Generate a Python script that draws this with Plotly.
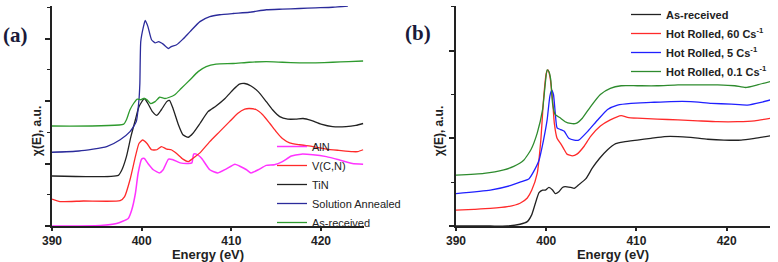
import plotly.graph_objects as go

energy_ticks = [390, 400, 410, 420]

# ---------------- Panel (a) ----------------
aln_e = [390, 395.4, 397.2, 398.5, 398.9, 399.3, 399.6, 400.0, 400.3, 400.7, 401.3, 402.0, 402.4, 403.0, 403.5,
         404.3, 405.2, 405.6, 405.8, 406.1, 406.7, 407.6, 408.5, 409.4, 410.4, 410.9, 411.7, 412.2, 413.0, 413.9,
         414.8, 415.7, 416.7, 417.8, 419.1, 420.6, 422.0, 423.5, 424.7]
aln_y = [0.0, 0.01, 0.04, 0.12, 0.26, 0.52, 0.84, 1.07, 1.08, 1.0, 0.9, 0.85, 0.9, 1.07, 1.06,
         1.01, 1.0, 1.01, 1.15, 1.15, 1.08, 0.9, 0.85, 0.91, 0.99, 0.96, 0.9, 0.85, 0.9, 0.97,
         0.98, 1.03, 1.12, 1.15, 1.14, 1.11, 1.06, 1.0, 0.99]

vcn_e = [390, 390.9, 393.5, 397.6, 398.1, 398.7, 399.3, 399.7, 400.1, 400.6, 401.1, 401.7, 402.2, 402.8, 403.3,
         403.9, 404.6, 405.2, 405.7, 406.5, 407.6, 408.7, 409.8, 410.7, 411.5, 412.0, 412.8, 413.5, 414.3, 415.0,
         415.7, 416.5, 417.6, 419.1, 420.6, 422.0, 423.5, 424.1, 424.7]
vcn_y = [0.43, 0.39, 0.40, 0.405, 0.47, 0.74, 1.11, 1.32, 1.376, 1.32, 1.22, 1.22, 1.27, 1.23, 1.22,
         1.16, 1.07, 1.03, 1.08, 1.17, 1.35, 1.51, 1.67, 1.80, 1.87, 1.88, 1.86, 1.78, 1.64, 1.51,
         1.40, 1.33, 1.30, 1.27, 1.23, 1.21, 1.19, 1.19, 1.22]

tin_e = [390, 397.4, 397.8, 398.3, 398.8, 399.3, 399.7, 400.3, 400.7, 401.2, 401.7, 402.2, 402.8, 403.1, 403.5,
         404.1, 404.6, 405.2, 405.7, 406.5, 407.4, 408.3, 409.3, 410.2, 410.9, 411.5, 412.2, 413.0, 413.9, 414.6,
         415.4, 416.3, 417.2, 418.0, 418.9, 420.0, 421.3, 422.8, 423.9, 424.7]
tin_y = [0.80, 0.81, 0.90, 1.11, 1.43, 1.70, 1.91, 2.04, 1.96, 1.83, 1.77, 1.86, 1.99, 2.01, 1.88,
         1.62, 1.46, 1.42, 1.48, 1.64, 1.83, 1.92, 2.04, 2.18, 2.27, 2.28, 2.24, 2.15, 1.99, 1.86,
         1.75, 1.71, 1.71, 1.72, 1.69, 1.63, 1.59, 1.59, 1.61, 1.64]

sa_e = [390, 393.0, 396.1, 397.6, 398.7, 399.4, 399.7, 399.8, 399.9, 400.2, 400.4, 400.7, 401.1, 401.5, 401.9,
        402.4, 403.0, 403.3, 403.9, 404.6, 405.4, 406.5, 407.6, 408.7, 410.2, 412.0, 413.9, 415.7, 417.6, 419.4,
        421.3, 423.0]
sa_y = [1.18, 1.20, 1.27, 1.38, 1.51, 1.67, 2.02, 2.28, 2.95, 3.19, 3.29, 3.19, 2.98, 2.93, 2.95,
        2.91, 2.84, 2.87, 2.90, 2.99, 3.11, 3.27, 3.35, 3.38, 3.40, 3.42, 3.46, 3.47, 3.48, 3.49,
        3.50, 3.52]

asr_a_e = [390, 398.0, 398.3, 398.7, 399.1, 399.5, 399.9, 400.2, 400.6, 401.0, 401.5, 402.0, 402.6, 403.1, 403.7,
           404.4, 405.4, 406.3, 407.2, 408.3, 410.2, 412.0, 413.9, 415.7, 417.6, 419.4, 421.3, 423.1, 424.7]
asr_a_y = [1.60, 1.63, 1.70, 1.86, 1.96, 2.03, 2.02, 2.04, 2.02, 1.96, 1.99, 2.06, 2.04, 2.06, 2.10,
           2.20, 2.34, 2.47, 2.55, 2.59, 2.60, 2.62, 2.63, 2.62, 2.61, 2.61, 2.62, 2.63, 2.64]

# ---------------- Panel (b) ----------------
b_asr_e = [390, 393.8, 395.7, 397.1, 397.9, 398.4, 398.8, 399.2, 399.6, 399.9, 400.3, 400.7, 401.0, 401.4, 401.8,
           402.1, 402.7, 403.1, 403.6, 404.4, 405.1, 405.9, 406.8, 407.7, 408.6, 410.1, 411.6, 413.1, 414.6, 416.0,
           417.9, 419.7, 421.6, 423.1, 424.9]
b_asr_y = [0.0, 0.0, 0.0, 0.02, 0.05, 0.13, 0.26, 0.38, 0.41, 0.41, 0.44, 0.41, 0.37, 0.39, 0.44,
           0.45, 0.44, 0.43, 0.47, 0.54, 0.66, 0.77, 0.87, 0.94, 0.96, 0.98, 1.00, 1.02, 1.02, 1.01,
           0.99, 0.98, 0.98, 1.00, 1.03]

b_60_e = [390, 392.0, 393.8, 395.7, 397.1, 397.9, 398.4, 399.0, 399.4, 399.7, 400.0, 400.2, 400.4, 400.7, 400.9,
          401.2, 401.6, 402.0, 402.3, 402.9, 403.4, 404.2, 404.9, 406.0, 407.1, 408.3, 409.0, 410.1, 412.3, 414.6,
          416.8, 419.0, 421.2, 423.1, 424.9]
b_60_y = [0.18, 0.19, 0.20, 0.22, 0.26, 0.32, 0.41, 0.60, 0.98, 1.44, 1.74, 1.78, 1.71, 1.44, 1.17,
          1.00, 0.94, 0.87, 0.82, 0.80, 0.82, 0.91, 1.02, 1.14, 1.21, 1.26, 1.24, 1.23, 1.22, 1.21,
          1.20, 1.19, 1.19, 1.20, 1.23]

b_5_e = [390, 393.8, 396.0, 397.1, 398.1, 398.6, 399.2, 399.7, 400.1, 400.4, 400.6, 400.8, 401.0, 401.2, 401.6,
         402.0, 402.5, 403.1, 403.6, 404.6, 405.7, 406.8, 407.9, 409.4, 411.6, 413.8, 416.0, 418.3, 420.5, 422.3,
         423.8, 424.9]
b_5_y = [0.37, 0.41, 0.46, 0.50, 0.54, 0.62, 0.75, 0.98, 1.21, 1.48, 1.55, 1.50, 1.29, 1.12, 1.10,
         1.08, 1.00, 0.98, 0.98, 1.08, 1.21, 1.33, 1.38, 1.40, 1.41, 1.42, 1.42, 1.40, 1.39, 1.38,
         1.41, 1.44]

b_01_e = [390, 393.1, 395.3, 396.4, 397.5, 398.3, 399.0, 399.6, 399.9, 400.1, 400.3, 400.5, 400.7, 401.0, 401.6,
          402.1, 402.7, 403.3, 404.0, 404.9, 406.0, 407.1, 408.3, 410.1, 412.3, 414.6, 416.8, 419.0, 420.9, 422.1,
          423.4, 424.9]
b_01_y = [0.58, 0.60, 0.64, 0.68, 0.75, 0.87, 1.06, 1.33, 1.63, 1.78, 1.76, 1.67, 1.40, 1.27, 1.23,
          1.19, 1.17, 1.17, 1.23, 1.36, 1.50, 1.57, 1.60, 1.60, 1.60, 1.61, 1.61, 1.61, 1.60, 1.58,
          1.61, 1.65]

FW, FH = 778, 262
FONT = "Liberation Sans, Arial, sans-serif"


def px(x):
    return x / FW


def py(y):
    return 1 - y / FH


fig = go.Figure()


def add(x, y, name, color, xa, ya, legend, width=1.3):
    fig.add_trace(go.Scatter(
        x=x, y=y, name=name, mode="lines",
        line=dict(color=color, width=width, shape="spline", smoothing=0.5),
        xaxis=xa, yaxis=ya, legend=legend))


add(aln_e, aln_y, "AlN", "#ff33ff", "x", "y", "legend", 1.5)
add(vcn_e, vcn_y, "V(C,N)", "#ff2a2a", "x", "y", "legend")
add(tin_e, tin_y, "TiN", "#222222", "x", "y", "legend")
add(sa_e, sa_y, "Solution Annealed", "#2b2b9b", "x", "y", "legend")
add(asr_a_e, asr_a_y, "As-received", "#2e9a2e", "x", "y", "legend")

add(b_asr_e, b_asr_y, "As-received", "#222222", "x2", "y2", "legend2")
add(b_60_e, b_60_y, "Hot Rolled, 60 Cs<sup>-1</sup>", "#ff2a2a", "x2", "y2", "legend2")
add(b_5_e, b_5_y, "Hot Rolled, 5 Cs<sup>-1</sup>", "#2020ff", "x2", "y2", "legend2")
add(b_01_e, b_01_y, "Hot Rolled, 0.1 Cs<sup>-1</sup>", "#2e8b2e", "x2", "y2", "legend2")

ydom = [py(226), py(6)]

xcommon = dict(
    range=[390, 424.8], tickvals=energy_ticks, ticks="outside", ticklen=3, tickwidth=1.5,
    tickcolor="#222", showline=True, linecolor="#222", linewidth=1.8, showgrid=False, zeroline=False,
    automargin=False,
    tickfont=dict(family=FONT, size=12, color="#222", weight="bold"),
    title=dict(text="Energy (eV)", font=dict(family=FONT, size=13, color="#222", weight="bold"), standoff=0),
)
ycommon = dict(
    dtick=1, tick0=0, ticks="outside", ticklen=5, tickwidth=1.5, tickcolor="#222",
    minor=dict(dtick=0.5, tick0=0, ticks="outside", ticklen=3, tickcolor="#222", tickwidth=1.2),
    showticklabels=False, showline=True, linecolor="#222", linewidth=1.8,
    showgrid=False, zeroline=False, automargin=False,
)

ytitle_font = dict(family=FONT, size=12, color="#222", weight="bold")
panel_font = dict(family="Liberation Serif, Times New Roman, serif", size=21, color="#1a1a3a", weight="bold")

fig.update_layout(
    template="none",
    width=FW, height=FH, autosize=False,
    margin=dict(l=0, r=0, t=0, b=0, pad=0),
    paper_bgcolor="white", plot_bgcolor="white",
    xaxis=dict(domain=[px(52), px(364)], anchor="y", **xcommon),
    yaxis=dict(domain=ydom, anchor="x", range=[0, 3.52], **ycommon),
    xaxis2=dict(domain=[px(456), px(770)], anchor="y2", **xcommon),
    yaxis2=dict(domain=ydom, anchor="x2", range=[0, 2.51], **ycommon),
    legend=dict(x=px(272), y=py(132), xanchor="left", yanchor="top",
                bgcolor="rgba(0,0,0,0)", borderwidth=0, font=dict(family=FONT, size=11, color="#222"),
                itemwidth=30, tracegroupgap=0),
    legend2=dict(x=px(626), y=1.0, xanchor="left", yanchor="top",
                 bgcolor="rgba(0,0,0,0)", borderwidth=0,
                 font=dict(family=FONT, size=11, color="#222", weight="bold"),
                 itemwidth=30, tracegroupgap=0),
    showlegend=True,
    annotations=[
        dict(text="χ(E), a.u.", x=px(37), y=py(131), xref="paper", yref="paper", textangle=-90,
             xanchor="center", yanchor="middle", showarrow=False, font=ytitle_font),
        dict(text="χ(E), a.u.", x=px(439), y=py(131), xref="paper", yref="paper", textangle=-90,
             xanchor="center", yanchor="middle", showarrow=False, font=ytitle_font),
        dict(text="(a)", x=px(16), y=py(35), xref="paper", yref="paper", xanchor="center", yanchor="middle",
             showarrow=False, font=panel_font),
        dict(text="(b)", x=px(418), y=py(33), xref="paper", yref="paper", xanchor="center", yanchor="middle",
             showarrow=False, font=panel_font),
    ],
)

# Remove the default 8px page margin so the 778x262 figure fills the window exactly.
fig.write_html("out.html", config={"displayModeBar": False},
               post_script="document.body.style.margin='0';")
